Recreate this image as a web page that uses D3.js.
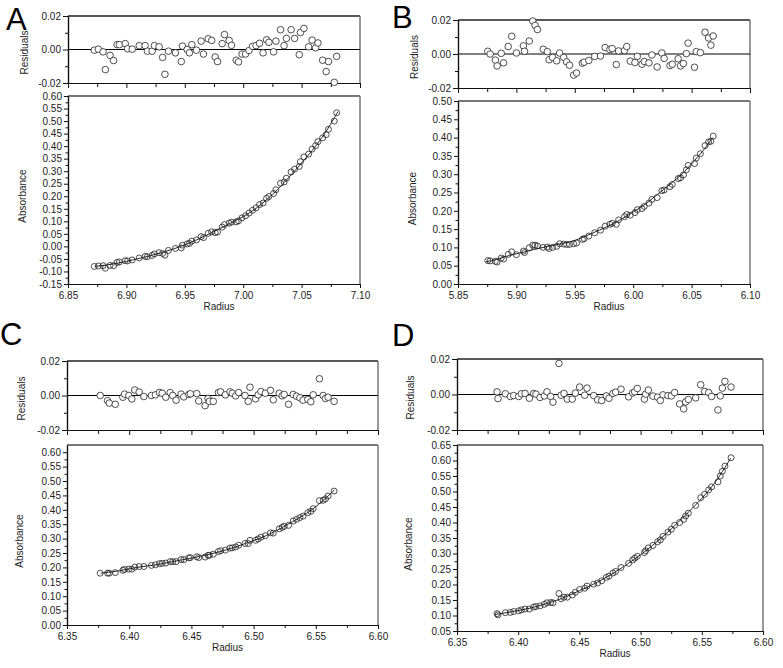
<!DOCTYPE html>
<html><head><meta charset="utf-8">
<script src="https://cdn.jsdelivr.net/npm/d3@7"></script>
<style>
body{margin:0;background:#fff}
svg{display:block}
text{font-family:"Liberation Sans",Arial,Helvetica,sans-serif}
</style>
</head><body>
<svg id="chart" width="783" height="668"></svg>
<script>
// ---------------- DATA ----------------
// Panel A
const radiusA = [6.8725,6.876,6.880,6.882,6.886,6.889,6.892,6.894,6.899,6.901,6.905,6.911,6.916,6.918,6.922,6.924,6.928,6.931,6.933,6.936,6.942,6.947,6.948,6.952,6.954,6.956,6.960,6.964,6.966,6.970,6.973,6.976,6.978,6.982,6.984,6.988,6.990,6.994,6.996,6.999,7.002,7.005,7.008,7.011,7.014,7.017,7.020,7.022,7.026,7.028,7.032,7.035,7.037,7.041,7.044,7.048,7.049,7.052,7.056,7.059,7.062,7.064,7.068,7.071,7.073,7.078,7.080];
const absorbanceA = [-0.080,-0.078,-0.077,-0.087,-0.076,-0.077,-0.064,-0.062,-0.057,-0.058,-0.054,-0.046,-0.040,-0.041,-0.036,-0.030,-0.025,-0.028,-0.035,-0.016,-0.008,-0.006,0.005,0.010,0.012,0.021,0.026,0.039,0.035,0.052,0.058,0.055,0.057,0.077,0.087,0.093,0.097,0.098,0.102,0.114,0.122,0.133,0.144,0.154,0.167,0.173,0.192,0.199,0.211,0.226,0.252,0.257,0.272,0.297,0.308,0.319,0.338,0.357,0.368,0.388,0.402,0.418,0.433,0.446,0.467,0.500,0.533];
const residualA = [-0.0004,0.0002,-0.0014,-0.012,-0.0035,-0.0066,0.0029,0.0029,0.0035,0.0004,0.0002,0.0023,0.0023,-0.001,-0.001,0.0023,0.0016,-0.0047,-0.0148,-0.001,-0.002,-0.0072,0.002,0,-0.002,0.0029,-0.0004,0.005,-0.0027,0.0064,0.0054,-0.0045,-0.0072,0.0035,0.0089,0.0054,0.0025,-0.0064,-0.0074,-0.0027,-0.0027,-0.0006,0.0019,0.0023,0.0037,-0.002,0.0058,0.0043,-0.0014,0.005,0.0118,0.0023,0.0066,0.0118,0.0066,-0.0031,0.0101,0.0126,0.0016,0.0056,0.001,0.0039,-0.0064,-0.0132,-0.0072,-0.0196,-0.0041];
const fitRadiusA = [6.873,6.89,6.91,6.93,6.95,6.97,6.99,7.00,7.01,7.02,7.03,7.04,7.05,7.06,7.07,7.081];
const fitAbsorbanceA = [-0.080,-0.069,-0.049,-0.025,0.006,0.048,0.095,0.119,0.148,0.186,0.230,0.280,0.333,0.388,0.452,0.537];

// Panel B
const radiusB = [5.8755,5.8775,5.882,5.8835,5.887,5.889,5.893,5.896,5.900,5.906,5.907,5.911,5.914,5.916,5.918,5.923,5.9265,5.928,5.931,5.9345,5.937,5.9405,5.943,5.9455,5.949,5.9515,5.9565,5.958,5.962,5.967,5.972,5.976,5.980,5.982,5.9855,5.9875,5.9925,5.9945,5.9975,6.0015,6.0035,6.0075,6.0095,6.0135,6.016,6.0205,6.0245,6.0265,6.0315,6.0335,6.0385,6.0405,6.043,6.0455,6.047,6.0525,6.054,6.0575,6.0615,6.0645,6.0665,6.0685];
const absorbanceB = [0.064,0.063,0.062,0.060,0.071,0.068,0.081,0.088,0.080,0.090,0.086,0.099,0.106,0.106,0.104,0.100,0.101,0.097,0.100,0.103,0.110,0.109,0.108,0.108,0.110,0.112,0.122,0.124,0.131,0.140,0.147,0.158,0.163,0.166,0.163,0.175,0.184,0.190,0.188,0.195,0.203,0.206,0.212,0.221,0.231,0.236,0.255,0.257,0.266,0.272,0.288,0.290,0.298,0.312,0.324,0.329,0.344,0.356,0.378,0.388,0.390,0.404];
const residualB = [0.0016,0,-0.0036,-0.007,0.0004,-0.0052,0.0044,0.0104,0.0006,0.0048,0.0016,0.0076,0.0194,0.0168,0.0144,0.0028,0.0014,-0.0034,-0.002,-0.004,0.0006,-0.002,-0.0046,-0.0066,-0.0124,-0.0112,-0.0054,-0.0048,-0.0038,-0.0014,-0.0012,0.0038,0.0026,0.0032,-0.0062,0.0018,0.002,0.0044,-0.0042,-0.005,-0.0014,-0.006,-0.0044,-0.0052,-0.0006,-0.0076,0.0006,-0.0026,-0.0068,-0.006,-0.0028,-0.007,-0.0056,0.0002,0.0064,-0.0078,0.0014,0.0008,0.0128,0.0094,0.0052,0.0106];
const fitRadiusB = [5.874,5.883,5.894,5.906,5.917,5.929,5.940,5.950,5.960,5.971,5.983,5.991,6.000,6.009,6.017,6.026,6.034,6.043,6.051,6.060,6.068];
const fitAbsorbanceB = [0.061,0.067,0.078,0.087,0.096,0.104,0.111,0.119,0.132,0.147,0.165,0.179,0.197,0.215,0.235,0.258,0.279,0.304,0.332,0.365,0.400];

// Panel C
const radiusC = [6.3767,6.3826,6.384,6.3888,6.3949,6.3963,6.3997,6.4021,6.4045,6.408,6.4118,6.4179,6.4211,6.4243,6.4265,6.4294,6.4329,6.435,6.4377,6.4417,6.4439,6.4479,6.4492,6.4543,6.4559,6.461,6.4634,6.4644,6.4676,6.4717,6.4735,6.4773,6.481,6.4829,6.4856,6.488,6.4931,6.4957,6.4971,6.5016,6.5037,6.5059,6.5094,6.5136,6.5158,6.5206,6.523,6.5246,6.5281,6.5318,6.5345,6.5372,6.5398,6.5436,6.546,6.5479,6.5529,6.5559,6.5578,6.5599,6.5647];
const absorbanceC = [0.180,0.180,0.180,0.182,0.190,0.193,0.194,0.194,0.201,0.203,0.203,0.207,0.209,0.213,0.214,0.215,0.220,0.220,0.220,0.227,0.227,0.233,0.234,0.237,0.234,0.236,0.242,0.242,0.246,0.255,0.258,0.260,0.267,0.268,0.271,0.277,0.283,0.283,0.294,0.294,0.299,0.305,0.310,0.320,0.319,0.334,0.339,0.343,0.346,0.361,0.367,0.373,0.378,0.390,0.395,0.404,0.432,0.433,0.438,0.448,0.465];
const residualC = [0,-0.003,-0.0044,-0.0051,-0.001,0.0008,0,-0.002,0.0032,0.002,-0.0006,0,0.0004,0.0017,0.0013,-0.001,0.0017,0,-0.0027,0.0008,-0.0008,0.0006,0.001,0.0011,-0.0032,-0.0059,-0.0017,-0.0034,-0.0034,0.0017,0.0021,0.0004,0.0021,0.0013,-0.0002,0.0017,0,-0.0034,0.0048,-0.0019,0.0004,0.0023,0.0013,0.003,-0.0025,0.0013,-0.0002,0.0006,-0.0051,0.0006,-0.0004,-0.0013,-0.0027,-0.0023,-0.0036,0.0004,0.0097,0,-0.0017,-0.001,-0.0034];
const fitRadiusC = [6.377,6.387,6.398,6.409,6.420,6.430,6.441,6.452,6.462,6.473,6.484,6.494,6.505,6.516,6.526,6.537,6.548,6.556,6.565];
const fitAbsorbanceC = [0.180,0.185,0.193,0.202,0.208,0.216,0.225,0.234,0.243,0.255,0.269,0.284,0.301,0.322,0.346,0.373,0.404,0.433,0.469];

// Panel D
const radiusD = [6.3827,6.3835,6.3895,6.3936,6.3963,6.4004,6.4026,6.4056,6.4091,6.4126,6.4145,6.4178,6.4214,6.4235,6.4265,6.4284,6.4333,6.435,6.4374,6.4401,6.4442,6.4467,6.4502,6.4543,6.4562,6.4617,6.4649,6.4682,6.472,6.4742,6.4774,6.4796,6.484,6.4902,6.4935,6.4952,6.4973,6.5031,6.5041,6.5063,6.5101,6.5139,6.5161,6.5183,6.5224,6.5251,6.5278,6.5319,6.5352,6.5368,6.539,6.545,6.5491,6.5523,6.5556,6.558,6.5632,6.5651,6.5668,6.5689,6.5739];
const absorbanceD = [0.106,0.102,0.109,0.110,0.113,0.115,0.118,0.121,0.121,0.127,0.129,0.131,0.136,0.141,0.142,0.141,0.171,0.154,0.159,0.159,0.166,0.175,0.184,0.188,0.195,0.201,0.205,0.212,0.223,0.227,0.237,0.242,0.255,0.268,0.279,0.285,0.291,0.303,0.309,0.318,0.326,0.338,0.344,0.355,0.369,0.378,0.391,0.400,0.410,0.421,0.430,0.455,0.480,0.491,0.505,0.515,0.531,0.550,0.565,0.582,0.609];
const residualD = [0.0015,-0.0023,0.0004,-0.0011,-0.0006,-0.0011,0.0004,0.0006,-0.0021,0.0006,0.0002,-0.0017,-0.0008,0.0015,-0.0011,-0.0043,0.0175,-0.0004,0.0006,-0.0026,-0.0026,0.0008,0.0042,-0.0004,0.0036,-0.0006,-0.003,-0.0034,-0.0008,-0.0021,0.0006,0.0013,0.003,-0.0013,0.0009,0.0015,0.0034,-0.0026,0.0002,0.0025,-0.0009,-0.0015,-0.0034,-0.0002,-0.0006,-0.0008,0.0011,-0.0053,-0.0081,-0.0042,-0.0028,-0.0019,0.0055,0.0017,0.0011,-0.0011,-0.0087,-0.0008,0.0036,0.0074,0.0042];
const fitRadiusD = [6.381,6.390,6.400,6.410,6.420,6.430,6.440,6.450,6.460,6.470,6.480,6.490,6.500,6.510,6.520,6.530,6.540,6.550,6.560,6.5735];
const fitAbsorbanceD = [0.103,0.109,0.116,0.124,0.135,0.147,0.162,0.180,0.198,0.219,0.242,0.268,0.296,0.327,0.361,0.398,0.437,0.478,0.525,0.607];

// Tick labels
const residualTicks = [-0.02, 0.00, 0.02];
const residualMinorTicks = [-0.01, 0.01];
const radiusTicksA = [6.85, 6.90, 6.95, 7.00, 7.05, 7.10];
const radiusTicksB = [5.85, 5.90, 5.95, 6.00, 6.05, 6.10];
const radiusTicksCD = [6.35, 6.40, 6.45, 6.50, 6.55, 6.60];
const absorbanceTicksA = [-0.15,-0.10,-0.05,0.00,0.05,0.10,0.15,0.20,0.25,0.30,0.35,0.40,0.45,0.50,0.55,0.60];
const absorbanceTicksB = [0.00,0.05,0.10,0.15,0.20,0.25,0.30,0.35,0.40,0.45,0.50];
const absorbanceTicksC = [0.00,0.05,0.10,0.15,0.20,0.25,0.30,0.35,0.40,0.45,0.50,0.55,0.60];
const absorbanceTicksD = [0.05,0.10,0.15,0.20,0.25,0.30,0.35,0.40,0.45,0.50,0.55,0.60,0.65];
const panelLetters = ["A", "B", "C", "D"];

// ---------------- LAYOUT ----------------
const panels = [
  {letter: panelLetters[0], lx: 6, ly: 30, x0: 68, x1: 360, r0: 16, r1: 83, a0: 96, a1: 284,
   xDom: [6.85, 7.10], yDom: [-0.15, 0.60], xTicks: radiusTicksA, yTicks: absorbanceTicksA,
   radius: radiusA, abs: absorbanceA, res: residualA, fitR: fitRadiusA, fitA: fitAbsorbanceA, titleX: 24},
  {letter: panelLetters[1], lx: 392, ly: 28, x0: 458, x1: 750, r0: 20, r1: 88, a0: 101, a1: 284,
   xDom: [5.85, 6.10], yDom: [0.00, 0.50], xTicks: radiusTicksB, yTicks: absorbanceTicksB,
   radius: radiusB, abs: absorbanceB, res: residualB, fitR: fitRadiusB, fitA: fitAbsorbanceB, titleX: 414},
  {letter: panelLetters[2], lx: 0, ly: 345, x0: 67, x1: 378, r0: 361, r1: 430, a0: 445, a1: 625,
   xDom: [6.35, 6.60], yDom: [0.00, 0.625], xTicks: radiusTicksCD, yTicks: absorbanceTicksC,
   radius: radiusC, abs: absorbanceC, res: residualC, fitR: fitRadiusC, fitA: fitAbsorbanceC, titleX: 21},
  {letter: panelLetters[3], lx: 392, ly: 346, x0: 457, x1: 763, r0: 359, r1: 430, a0: 445, a1: 631,
   xDom: [6.35, 6.60], yDom: [0.05, 0.65], xTicks: radiusTicksCD, yTicks: absorbanceTicksD,
   radius: radiusD, abs: absorbanceD, res: residualD, fitR: fitRadiusD, fitA: fitAbsorbanceD, titleX: 410}
];

const svg = d3.select("#chart");
const fmt = d => d.toFixed(2);
const mids = arr => arr.slice(1).map((v, i) => (v + arr[i]) / 2);
const TXT = "#222";

function styleAxis(sel, fontSize) {
  sel.selectAll("path.domain").attr("stroke", "#111").attr("stroke-width", 1.2);
  sel.selectAll(".tick line").attr("stroke", "#111").attr("stroke-width", 1);
  sel.selectAll("text").attr("font-size", fontSize).attr("fill", TXT)
    .attr("font-family", '"Liberation Sans", Arial, sans-serif');
}

panels.forEach(p => {
  const g = svg.append("g");
  const x = d3.scaleLinear().domain(p.xDom).range([p.x0, p.x1]);
  const yr = d3.scaleLinear().domain([-0.02, 0.02]).range([p.r1, p.r0]);
  const ya = d3.scaleLinear().domain(p.yDom).range([p.a1, p.a0]);
  const xMinor = mids(p.xTicks);
  const yMinor = mids(p.yTicks);

  // Panel letter
  g.append("text").attr("x", p.lx).attr("y", p.ly).text(p.letter)
    .attr("font-size", 31).attr("fill", "#000");

  // ---------- Residual plot ----------
  g.append("line").attr("x1", p.x0).attr("x2", p.x1).attr("y1", p.r0).attr("y2", p.r0)
    .attr("stroke", "#222").attr("stroke-width", 1.3);
  g.append("line").attr("x1", p.x1).attr("x2", p.x1).attr("y1", p.r0).attr("y2", p.r1)
    .attr("stroke", "#777").attr("stroke-width", 1.5);
  g.append("line").attr("x1", p.x0).attr("x2", p.x1).attr("y1", yr(0)).attr("y2", yr(0))
    .attr("stroke", "#000").attr("stroke-width", 1.2);

  const rl = g.append("g").attr("transform", `translate(${p.x0},0)`)
    .call(d3.axisLeft(yr).tickValues(residualTicks).tickSize(5).tickSizeOuter(0).tickPadding(2).tickFormat(fmt));
  styleAxis(rl, 10);
  const rlm = g.append("g").attr("transform", `translate(${p.x0},0)`)
    .call(d3.axisLeft(yr).tickValues(residualMinorTicks).tickSize(3).tickSizeOuter(0).tickFormat(""));
  styleAxis(rlm, 10);

  const rb = g.append("g").attr("transform", `translate(0,${p.r1})`)
    .call(d3.axisBottom(x).tickValues(p.xTicks).tickSize(5).tickSizeOuter(0).tickFormat(""));
  styleAxis(rb, 10);
  const rbm = g.append("g").attr("transform", `translate(0,${p.r1})`)
    .call(d3.axisBottom(x).tickValues(xMinor).tickSize(4).tickSizeOuter(0).tickFormat(""));
  styleAxis(rbm, 10);

  g.append("text")
    .attr("transform", `translate(${p.titleX},${(p.r0 + p.r1) / 2 + 3}) rotate(-90)`)
    .attr("text-anchor", "middle").attr("dominant-baseline", "central")
    .attr("font-size", 10).attr("fill", TXT).text("Residuals");

  g.append("g").selectAll("circle")
    .data(p.radius.map((r, i) => ({r, v: p.res[i]})))
    .join("circle")
    .attr("cx", d => x(d.r)).attr("cy", d => yr(d.v)).attr("r", 3.3)
    .attr("fill", "#fff").attr("stroke", "#222").attr("stroke-width", 0.8);

  // ---------- Absorbance plot ----------
  g.append("line").attr("x1", p.x0).attr("x2", p.x1).attr("y1", p.a0).attr("y2", p.a0)
    .attr("stroke", "#777").attr("stroke-width", 2);
  g.append("line").attr("x1", p.x1).attr("x2", p.x1).attr("y1", p.a0).attr("y2", p.a1)
    .attr("stroke", "#777").attr("stroke-width", 1.5);

  const al = g.append("g").attr("transform", `translate(${p.x0},0)`)
    .call(d3.axisLeft(ya).tickValues(p.yTicks).tickSize(4).tickSizeOuter(0).tickPadding(2).tickFormat(fmt));
  styleAxis(al, 10);
  const alm = g.append("g").attr("transform", `translate(${p.x0},0)`)
    .call(d3.axisLeft(ya).tickValues(yMinor).tickSize(2.5).tickSizeOuter(0).tickFormat(""));
  styleAxis(alm, 10);

  const ab = g.append("g").attr("transform", `translate(0,${p.a1})`)
    .call(d3.axisBottom(x).tickValues(p.xTicks).tickSize(4).tickSizeOuter(0).tickPadding(4).tickFormat(fmt));
  styleAxis(ab, 10);
  const abm = g.append("g").attr("transform", `translate(0,${p.a1})`)
    .call(d3.axisBottom(x).tickValues(xMinor).tickSize(3).tickSizeOuter(0).tickFormat(""));
  styleAxis(abm, 10);

  g.append("text")
    .attr("transform", `translate(${p.titleX - 2},${(p.a0 + p.a1) / 2 + 6}) rotate(-90)`)
    .attr("text-anchor", "middle").attr("dominant-baseline", "central")
    .attr("font-size", 10).attr("fill", TXT).text("Absorbance");

  g.append("text").attr("x", (p.x0 + p.x1) / 2 + 5).attr("y", p.a1 + 26)
    .attr("text-anchor", "middle").attr("font-size", 10).attr("fill", TXT).text("Radius");

  const line = d3.line().x(d => x(d[0])).y(d => ya(d[1])).curve(d3.curveMonotoneX);
  g.append("path").datum(p.fitR.map((r, i) => [r, p.fitA[i]]))
    .attr("d", line).attr("fill", "none").attr("stroke", "#111").attr("stroke-width", 0.9);

  g.append("g").selectAll("circle")
    .data(p.radius.map((r, i) => ({r, v: p.abs[i]})))
    .join("circle")
    .attr("cx", d => x(d.r)).attr("cy", d => ya(d.v)).attr("r", 3)
    .attr("fill", "none").attr("stroke", "#222").attr("stroke-width", 0.8);
});
</script>
</body></html>
